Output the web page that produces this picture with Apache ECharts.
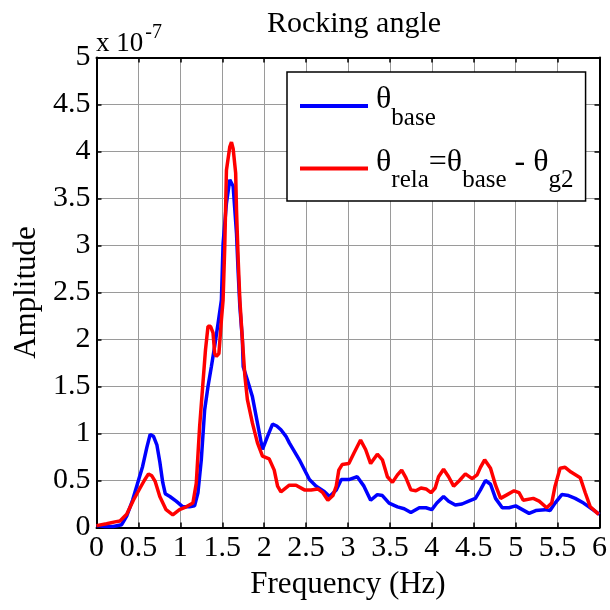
<!DOCTYPE html>
<html>
<head>
<meta charset="utf-8">
<script src="https://cdn.jsdelivr.net/npm/echarts@6/dist/echarts.min.js"></script>
<style>
  html, body { margin: 0; padding: 0; background: #fff; }
  #chart { width: 610px; height: 610px; }
</style>
</head>
<body>
<div id="chart"></div>
<script>
// Rocking-angle amplitude spectra (amplitudes in units of 1e-7)
const baseFreq = [0.00,0.10,0.20,0.30,0.36,0.43,0.50,0.55,0.60,0.64,0.68,0.72,0.755,0.79,0.82,0.875,0.95,1.03,1.11,1.17,1.21,1.25,1.29,1.33,1.37,1.41,1.45,1.49,1.51,1.55,1.59,1.63,1.65,1.67,1.69,1.71,1.74,1.75,1.80,1.86,1.92,1.98,2.04,2.10,2.15,2.20,2.26,2.30,2.42,2.54,2.62,2.72,2.78,2.86,2.92,3.01,3.11,3.19,3.27,3.35,3.41,3.49,3.59,3.67,3.75,3.85,3.93,4.00,4.06,4.14,4.20,4.28,4.36,4.44,4.52,4.58,4.64,4.70,4.76,4.84,4.92,5.00,5.08,5.16,5.24,5.35,5.41,5.47,5.55,5.63,5.71,5.81,5.89,6.00];
const baseAmp  = [0.02,0.01,0.01,0.03,0.12,0.29,0.50,0.65,0.85,0.99,0.97,0.88,0.70,0.48,0.36,0.33,0.28,0.22,0.22,0.23,0.37,0.72,1.25,1.50,1.71,1.93,2.17,2.42,3.02,3.45,3.70,3.63,3.38,3.13,2.71,2.35,2.00,1.71,1.57,1.39,1.11,0.83,0.97,1.10,1.08,1.04,0.97,0.90,0.72,0.51,0.44,0.38,0.33,0.40,0.51,0.51,0.54,0.44,0.29,0.35,0.34,0.26,0.22,0.20,0.16,0.21,0.21,0.19,0.26,0.33,0.28,0.24,0.25,0.28,0.31,0.40,0.50,0.46,0.31,0.21,0.21,0.23,0.19,0.15,0.18,0.19,0.18,0.26,0.35,0.34,0.31,0.26,0.21,0.14];

const relaFreq = [0.00,0.12,0.22,0.28,0.36,0.44,0.52,0.57,0.62,0.66,0.70,0.755,0.83,0.91,0.99,1.07,1.15,1.19,1.23,1.27,1.30,1.33,1.36,1.39,1.41,1.43,1.46,1.49,1.51,1.53,1.55,1.59,1.61,1.63,1.66,1.67,1.69,1.71,1.74,1.77,1.80,1.86,1.92,1.98,2.06,2.12,2.16,2.20,2.30,2.38,2.48,2.56,2.64,2.70,2.76,2.82,2.86,2.89,2.93,3.01,3.07,3.15,3.21,3.27,3.35,3.41,3.47,3.53,3.59,3.64,3.69,3.75,3.81,3.87,3.93,3.99,4.04,4.08,4.14,4.20,4.26,4.33,4.40,4.48,4.54,4.58,4.63,4.70,4.76,4.82,4.90,4.98,5.04,5.09,5.21,5.28,5.37,5.43,5.47,5.53,5.59,5.66,5.77,5.83,5.89,5.99];
const relaAmp  = [0.02,0.04,0.06,0.07,0.14,0.29,0.42,0.50,0.57,0.55,0.49,0.33,0.19,0.135,0.19,0.22,0.26,0.47,1.07,1.54,1.89,2.14,2.14,2.07,1.85,1.82,1.85,2.21,2.42,2.99,3.80,4.05,4.10,4.03,3.77,3.38,2.85,2.42,2.00,1.61,1.36,1.11,0.90,0.76,0.73,0.61,0.44,0.38,0.45,0.45,0.40,0.40,0.41,0.37,0.29,0.34,0.44,0.61,0.67,0.68,0.79,0.93,0.83,0.68,0.78,0.72,0.54,0.48,0.56,0.61,0.53,0.40,0.39,0.42,0.41,0.37,0.42,0.54,0.62,0.54,0.44,0.50,0.57,0.52,0.56,0.64,0.72,0.63,0.45,0.31,0.35,0.39,0.37,0.29,0.31,0.28,0.21,0.26,0.44,0.63,0.64,0.59,0.53,0.37,0.22,0.14];

const xTicks = { min: 0, max: 6, step: 0.5 };
const yTicks = { min: 0, max: 5, step: 0.5 };

const SERIF = '"Liberation Serif", "Times New Roman", serif';

const pairs = (xs, ys) => xs.map((x, i) => [x, ys[i]]);

// Legend labels: theta glyphs with lowered subscripts
const legendText = {
  base: '{t0|θ}{sb|base}',
  rela: '{t0|θ}{sb|rela}{th|=θ}{sb|base}{th| - θ}{sb|g2}'
};

const chart = echarts.init(document.getElementById('chart'), null, { renderer: 'canvas' });

const axisCommon = {
  type: 'value',
  axisLine: { show: true, onZero: false, lineStyle: { color: '#000', width: 2 } },
  axisTick: { show: true, inside: true, length: 5, lineStyle: { color: '#000', width: 1.5 } },
  splitLine: { show: false }
};

chart.setOption({
  animation: false,
  backgroundColor: '#fff',
  title: [{
    text: 'Rocking angle',
    left: 349, textAlign: 'center', top: 4,
    textStyle: { fontFamily: SERIF, fontSize: 30, fontWeight: 'normal', color: '#000' }
  }, {
    text: '{a|x 10}{b|-7}',
    left: 96, top: 20, padding: 0,
    textStyle: {
      fontWeight: 'normal',
      rich: {
        a: { fontFamily: SERIF, fontSize: 27, fontWeight: 'normal', color: '#000', padding: [10, 0, 0, 0] },
        b: { fontFamily: SERIF, fontSize: 20, fontWeight: 'normal', color: '#000', padding: [0, 0, 12, 2] }
      }
    }
  }],
  grid: { left: 96.5, right: 9, top: 57.5, bottom: 82.5, containLabel: false },
  legend: {
    orient: 'vertical',
    left: 287, top: 72,
    padding: [12, 12, 8, 13],
    itemGap: 16,
    icon: 'rect',
    itemWidth: 68, itemHeight: 4,
    backgroundColor: '#fff',
    borderColor: '#000', borderWidth: 1.5, borderRadius: 0,
    data: ['base', 'rela'],
    formatter: name => legendText[name],
    textStyle: {
      rich: {
        t0: { fontFamily: SERIF, fontSize: 32, color: '#000', padding: [0, 0, 12, 3] },
        th: { fontFamily: SERIF, fontSize: 32, color: '#000', padding: [0, 0, 12, 0] },
        sb: { fontFamily: SERIF, fontSize: 25, color: '#000', padding: [24, 0, 0, 0] }
      }
    }
  },
  xAxis: [
    Object.assign({}, axisCommon, {
      min: xTicks.min, max: xTicks.max, interval: xTicks.step, position: 'bottom',
      name: 'Frequency (Hz)', nameLocation: 'middle', nameGap: 42,
      nameTextStyle: { fontFamily: SERIF, fontSize: 31, color: '#000' },
      axisLabel: { fontFamily: SERIF, fontSize: 30, color: '#000', margin: 6 },
      splitLine: { show: true, lineStyle: { color: '#9a9a9a', width: 1 } }
    }),
    Object.assign({}, axisCommon, {
      min: xTicks.min, max: xTicks.max, interval: xTicks.step, position: 'top',
      axisLabel: { show: false }
    })
  ],
  yAxis: [
    Object.assign({}, axisCommon, {
      min: yTicks.min, max: yTicks.max, interval: yTicks.step, position: 'left',
      name: 'Amplitude', nameLocation: 'middle', nameGap: 47,
      nameTextStyle: { fontFamily: SERIF, fontSize: 31, color: '#000' },
      axisLabel: { fontFamily: SERIF, fontSize: 30, color: '#000', margin: 6 },
      splitLine: { show: true, lineStyle: { color: '#9a9a9a', width: 1 } }
    }),
    Object.assign({}, axisCommon, {
      min: yTicks.min, max: yTicks.max, interval: yTicks.step, position: 'right',
      axisLabel: { show: false }
    })
  ],
  series: [{
    name: 'base', type: 'line', xAxisIndex: 0, yAxisIndex: 0,
    data: pairs(baseFreq, baseAmp),
    showSymbol: false, symbol: 'none', smooth: false,
    itemStyle: { color: '#0000ff' },
    lineStyle: { color: '#0000ff', width: 3.5 },
    z: 3
  }, {
    name: 'rela', type: 'line', xAxisIndex: 0, yAxisIndex: 0,
    data: pairs(relaFreq, relaAmp),
    showSymbol: false, symbol: 'none', smooth: false,
    itemStyle: { color: '#ff0000' },
    lineStyle: { color: '#ff0000', width: 3.5 },
    z: 4
  }]
});
</script>
</body>
</html>
